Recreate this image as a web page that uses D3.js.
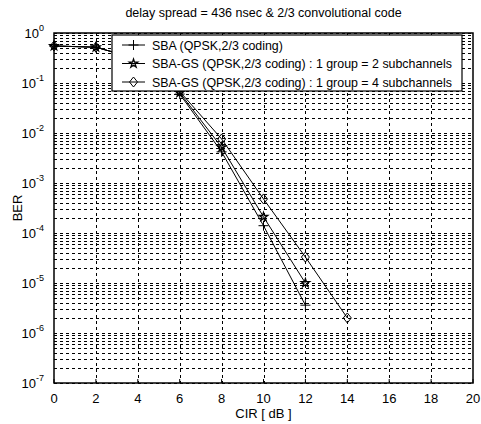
<!DOCTYPE html>
<html lang="en">
<head>
<meta charset="utf-8">
<title>BER vs CIR</title>
<script src="https://d3js.org/d3.v7.min.js"></script>
<style>
  body { margin: 0; background: #fff; }
  svg { font-family: "Liberation Sans", Arial, sans-serif; }
</style>
</head>
<body>
<div class="chart"></div>
<script>
// data
const cirSba = [0, 2, 4, 6, 8, 10, 12];
const berSba = [0.55, 0.52, 0.3, 0.06, 4.2e-3, 1.4e-4, 3.6e-6];
const cirGs2 = [0, 2, 4, 6, 8, 10, 12];
const berGs2 = [0.55, 0.52, 0.3, 0.064, 5.2e-3, 2.1e-4, 1.0e-5];
const cirGs4 = [0, 2, 4, 6, 8, 10, 12, 14];
const berGs4 = [0.55, 0.52, 0.3, 0.068, 7.6e-3, 4.8e-4, 3.3e-5, 2.0e-6];

const xTicks = [0, 2, 4, 6, 8, 10, 12, 14, 16, 18, 20];
const yExponents = [0, -1, -2, -3, -4, -5, -6, -7];
const legendLabels = [
  "SBA (QPSK,2/3 coding)",
  "SBA-GS (QPSK,2/3 coding) : 1 group = 2 subchannels",
  "SBA-GS (QPSK,2/3 coding) : 1 group = 4 subchannels"
];

const W = 481, H = 424;
const margin = {top: 33, right: 8, bottom: 41, left: 54};
const w = W - margin.left - margin.right;
const h = H - margin.top - margin.bottom;

const svg = d3.select(".chart").append("svg")
  .attr("width", W).attr("height", H);
const g = svg.append("g")
  .attr("transform", `translate(${margin.left},${margin.top})`);

const x = d3.scaleLinear().domain([0, 20]).range([0, w]);
const y = d3.scaleLog().domain([1e-7, 1]).range([h, 0]);

// grid
const dash = "3,3";
const minorVals = [];
for (let e = -7; e < 0; e++) {
  for (let m = 2; m <= 9; m++) minorVals.push(m * Math.pow(10, e));
}
g.selectAll(".ygrid").data(yExponents.map(e => Math.pow(10, e)).concat(minorVals))
  .enter().append("line")
  .attr("x1", 0).attr("x2", w)
  .attr("y1", d => Math.round(y(d)) + 0.5).attr("y2", d => Math.round(y(d)) + 0.5)
  .attr("stroke", "#000").attr("stroke-width", 1)
  .attr("stroke-dasharray", dash);
g.selectAll(".xgrid").data(xTicks.slice(1, -1))
  .enter().append("line")
  .attr("y1", 0).attr("y2", h)
  .attr("x1", d => Math.round(x(d)) + 0.5).attr("x2", d => Math.round(x(d)) + 0.5)
  .attr("stroke", "#000").attr("stroke-width", 1)
  .attr("stroke-dasharray", dash);

// axes box
g.append("rect").attr("width", w).attr("height", h)
  .attr("fill", "none").attr("stroke", "#000").attr("stroke-width", 1.5);

// x ticks
const xAxis = g.append("g").attr("transform", `translate(0,${h})`);
xAxis.selectAll("text").data(xTicks).enter().append("text")
  .attr("x", d => x(d)).attr("y", 20)
  .attr("text-anchor", "middle").attr("font-size", 13)
  .text(d => d);
g.selectAll(".xt").data(xTicks).enter().append("line")
  .attr("x1", d => x(d)).attr("x2", d => x(d))
  .attr("y1", h).attr("y2", h - 4).attr("stroke", "#000");

// y ticks with superscript exponents
const yl = g.selectAll(".yl").data(yExponents).enter().append("text")
  .attr("x", -10).attr("y", d => y(Math.pow(10, d)) + 5)
  .attr("text-anchor", "end").attr("font-size", 13);
yl.append("tspan").text("10");
yl.append("tspan").attr("dy", -7).attr("font-size", 9).text(d => d);

// lines
const line = d3.line().x(d => x(d[0])).y(d => y(d[1]));
const series = [
  {xs: cirSba, ys: berSba, marker: "plus"},
  {xs: cirGs2, ys: berGs2, marker: "star"},
  {xs: cirGs4, ys: berGs4, marker: "diamond"}
];

function drawMarker(sel, type) {
  if (type === "plus") {
    sel.append("path").attr("d", "M-5,0H5M0,-5V5")
      .attr("stroke", "#000").attr("fill", "none");
  } else if (type === "star") {
    sel.append("path").attr("d", d3.symbol(d3.symbolStar, 22)())
      .attr("stroke", "#000").attr("stroke-width", 1.3).attr("fill", "none");
  } else {
    sel.append("path").attr("d", "M0,-5L4,0L0,5L-4,0Z")
      .attr("stroke", "#000").attr("fill", "none");
  }
}

series.forEach(s => {
  const pts = s.xs.map((v, i) => [v, s.ys[i]]);
  g.append("path").datum(pts).attr("d", line)
    .attr("fill", "none").attr("stroke", "#000").attr("stroke-width", 1);
  g.selectAll(null).data(pts).enter().append("g")
    .attr("transform", d => `translate(${x(d[0])},${y(d[1])})`)
    .each(function() { drawMarker(d3.select(this), s.marker); });
});

// legend
const legend = svg.append("g").attr("transform", "translate(112,35)");
legend.append("rect").attr("width", 350).attr("height", 56)
  .attr("fill", "#fff").attr("stroke", "#000").attr("stroke-width", 1.2);
legendLabels.forEach((lab, i) => {
  const yy = 10 + i * 18.5;
  legend.append("line").attr("x1", 10).attr("x2", 33)
    .attr("y1", yy).attr("y2", yy).attr("stroke", "#000");
  drawMarker(legend.append("g").attr("transform", `translate(21.5,${yy})`), series[i].marker);
  legend.append("text").attr("x", 40).attr("y", yy + 4.5)
    .attr("font-size", 12.4).text(lab);
});

// title and labels
svg.append("text").attr("x", margin.left + w / 2).attr("y", 17)
  .attr("text-anchor", "middle").attr("font-size", 12.5)
  .text("delay spread = 436 nsec & 2/3 convolutional code");
svg.append("text").attr("x", margin.left + w / 2).attr("y", H - 6)
  .attr("text-anchor", "middle").attr("font-size", 13)
  .text("CIR [ dB ]");
svg.append("text")
  .attr("transform", `translate(22,${margin.top + h / 2}) rotate(-90)`)
  .attr("text-anchor", "middle").attr("font-size", 13)
  .text("BER");
</script>
</body>
</html>
